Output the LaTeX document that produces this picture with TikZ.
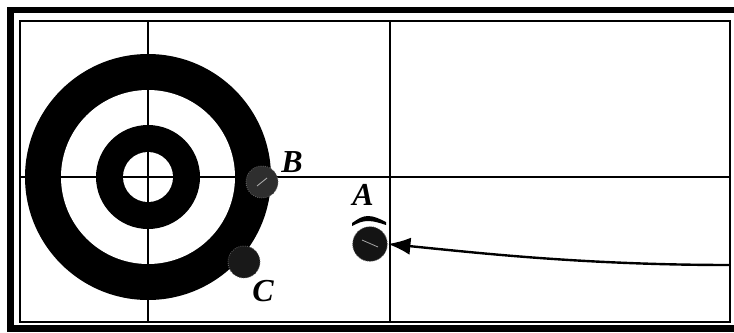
\documentclass[tikz,border=0pt]{standalone}
\usepackage{fontspec}
\setmainfont{Liberation Serif}
\usetikzlibrary{arrows.meta}
\begin{document}
\begin{tikzpicture}[x=0.75pt,y=-0.75pt,
  stone/.style={circle,draw=black!60,densely dotted,line width=0.6pt,inner sep=0pt,minimum size=24pt},
  lbl/.style={font=\fontsize{24}{24}\selectfont\bfseries\itshape,inner sep=0pt},
  cross/.style={line width=1.1pt,black},
  shot/.style={line width=1.8pt,-{Latex[length=17pt,width=13pt]}}]
\useasboundingbox (0,0) rectangle (734,332);
\fill[white] (0,0) rectangle (734,332);
% frames
\draw[line width=4.8pt] (10.5,10) rectangle (745,328.5);
\draw[line width=1.5pt] (19.5,20.5) rectangle (730,321.5);
% house rings
\fill[black] (148,177) circle (123);
\fill[white] (148,177) circle (87);
\fill[black] (148,177) circle (52);
\fill[white] (148,177) circle (25);
% cross lines
\coordinate (vt1) at (148,20.5);
\coordinate (vb1) at (148,321.5);
\coordinate (vt2) at (390,20.5);
\coordinate (vb2) at (390,321.5);
\coordinate (hl) at (19.5,177);
\coordinate (hr) at (730,177);
\draw[cross] (vt1) -- (vb1);
\draw[cross] (vt2) -- (vb2);
\draw[cross] (hl) -- (hr);
% stones
\node[stone,fill=black!82] (B) at (262,182) {};
\node[stone,fill=black!90] (C) at (244,262) {};
\node[stone,fill=black!92,minimum size=26pt] (A) at (370,244) {};
\draw[gray!70,line width=0.6pt] (362,240) -- (378,247);
\draw[gray!60,line width=0.6pt] (257,186) -- (267,178);
% labels
\node[lbl] (lA) at (363,195) {A};
\node[lbl] (lB) at (292,162) {B};
\node[lbl] (lC) at (263,291) {C};
% rotation mark above A
\fill[black] (352,223) .. controls (358,219) and (362,216) .. (368,216)
  .. controls (374,216) and (380,219) .. (386,222)
  -- (386,225) .. controls (380,223) and (374,221) .. (368,221)
  .. controls (362,221) and (358,223) .. (352,226) -- cycle;
% delivery path
\coordinate (start) at (730,265);
\draw[shot] (start) .. controls (580,265) and (470,252) .. (A.east);
\end{tikzpicture}
\end{document}
